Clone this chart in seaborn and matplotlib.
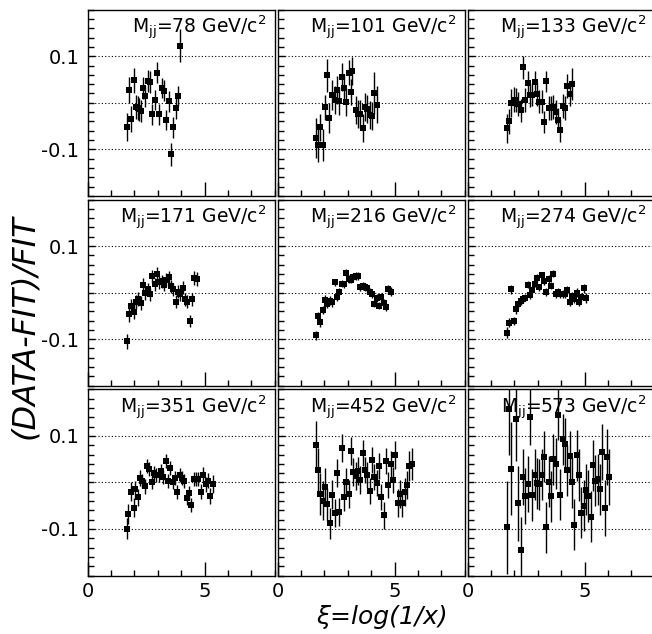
import numpy as np
import pandas as pd
import matplotlib
matplotlib.use("Agg")
import matplotlib.pyplot as plt
import seaborn as sns
from matplotlib.ticker import MultipleLocator, FixedLocator

masses = [78, 101, 133, 171, 216, 274, 351, 452, 573]

x_78 = [1.67, 1.76, 1.87, 1.97, 2.06, 2.14, 2.21, 2.29, 2.37, 2.46, 2.56, 2.66, 2.76, 2.86, 2.96, 3.06, 3.16, 3.26, 3.36, 3.46, 3.56, 3.66, 3.76, 3.86, 3.96]
y_78 = [-0.053, 0.027, -0.035, 0.048, -0.009, -0.011, -0.014, -0.017, 0.032, 0.014, 0.047, 0.045, -0.025, 0.006, 0.065, -0.025, 0.032, 0.026, -0.037, 0.003, -0.111, -0.053, -0.012, 0.015, 0.123]
e_78 = [0.030, 0.028, 0.027, 0.027, 0.025, 0.025, 0.025, 0.024, 0.024, 0.023, 0.023, 0.023, 0.022, 0.022, 0.023, 0.022, 0.022, 0.022, 0.022, 0.022, 0.024, 0.022, 0.022, 0.022, 0.036]

x_101 = [1.64, 1.73, 1.83, 1.94, 2.03, 2.11, 2.21, 2.33, 2.43, 2.53, 2.63, 2.73, 2.83, 2.93, 3.03, 3.13, 3.19, 3.33, 3.43, 3.53, 3.63, 3.73, 3.83, 3.93, 4.03, 4.13, 4.23]
y_101 = [-0.076, -0.091, -0.053, -0.091, -0.010, 0.059, -0.033, 0.017, 0.006, 0.027, 0.003, 0.055, 0.032, 0.001, 0.065, 0.024, 0.068, -0.016, -0.024, -0.024, -0.055, -0.009, -0.014, -0.027, -0.029, 0.021, -0.004]
e_101 = [0.043, 0.036, 0.029, 0.035, 0.027, 0.036, 0.032, 0.032, 0.030, 0.030, 0.030, 0.030, 0.030, 0.030, 0.027, 0.028, 0.030, 0.030, 0.030, 0.030, 0.030, 0.030, 0.030, 0.030, 0.030, 0.045, 0.040]

x_133 = [1.67, 1.76, 1.86, 1.96, 2.06, 2.16, 2.26, 2.36, 2.46, 2.56, 2.66, 2.76, 2.86, 2.96, 3.06, 3.16, 3.26, 3.36, 3.46, 3.56, 3.66, 3.76, 3.86, 3.96, 4.06, 4.16, 4.26, 4.36, 4.46]
y_133 = [-0.055, -0.040, 0.000, 0.007, 0.006, -0.003, -0.016, 0.076, 0.006, 0.043, 0.016, 0.017, 0.044, 0.019, 0.002, 0.002, -0.042, 0.046, -0.011, -0.011, -0.009, -0.020, -0.036, -0.059, -0.007, -0.011, 0.036, 0.018, 0.041]
e_133 = [0.031, 0.027, 0.030, 0.026, 0.026, 0.026, 0.025, 0.025, 0.025, 0.025, 0.025, 0.025, 0.025, 0.025, 0.025, 0.025, 0.024, 0.022, 0.025, 0.025, 0.025, 0.025, 0.025, 0.025, 0.025, 0.025, 0.025, 0.025, 0.034]

x_171 = [1.67, 1.76, 1.87, 1.97, 2.06, 2.16, 2.26, 2.36, 2.46, 2.56, 2.66, 2.76, 2.86, 2.96, 3.06, 3.16, 3.26, 3.36, 3.46, 3.56, 3.66, 3.76, 3.86, 3.96, 4.06, 4.16, 4.26, 4.36, 4.46, 4.56, 4.66]
y_171 = [-0.105, -0.047, -0.029, -0.041, -0.020, -0.014, -0.022, 0.017, -0.001, 0.007, -0.004, 0.035, 0.018, 0.040, 0.022, 0.024, 0.017, 0.028, 0.033, 0.014, 0.007, -0.020, 0.002, -0.004, 0.010, -0.014, -0.020, -0.061, -0.014, 0.031, 0.029]
e_171 = [0.017, 0.016, 0.016, 0.016, 0.015, 0.015, 0.015, 0.015, 0.015, 0.014, 0.014, 0.014, 0.014, 0.014, 0.014, 0.014, 0.014, 0.014, 0.014, 0.014, 0.014, 0.014, 0.014, 0.014, 0.014, 0.014, 0.014, 0.013, 0.014, 0.015, 0.015]

x_216 = [1.64, 1.73, 1.83, 1.94, 2.03, 2.13, 2.23, 2.33, 2.43, 2.53, 2.63, 2.73, 2.83, 2.93, 3.03, 3.13, 3.23, 3.33, 3.43, 3.53, 3.63, 3.73, 3.83, 3.93, 4.03, 4.13, 4.23, 4.33, 4.43, 4.53, 4.63, 4.73, 4.83]
y_216 = [-0.092, -0.050, -0.064, -0.038, -0.015, -0.025, -0.017, -0.021, 0.022, -0.009, 0.002, 0.019, 0.018, 0.043, 0.029, 0.028, 0.034, 0.036, 0.036, 0.012, 0.014, 0.012, 0.009, 0.002, -0.004, -0.024, -0.012, -0.028, -0.009, -0.023, -0.031, 0.007, 0.002]
e_216 = [0.010, 0.009, 0.009, 0.009, 0.009, 0.009, 0.009, 0.009, 0.008, 0.008, 0.008, 0.008, 0.008, 0.008, 0.008, 0.008, 0.008, 0.008, 0.008, 0.008, 0.008, 0.008, 0.008, 0.008, 0.008, 0.008, 0.008, 0.008, 0.009, 0.009, 0.009, 0.010, 0.010]

x_274 = [1.67, 1.76, 1.86, 1.96, 2.06, 2.16, 2.26, 2.36, 2.46, 2.56, 2.66, 2.76, 2.86, 2.96, 3.06, 3.16, 3.26, 3.36, 3.46, 3.56, 3.66, 3.76, 3.86, 3.96, 4.06, 4.16, 4.26, 4.36, 4.46, 4.56, 4.66, 4.76, 4.86, 4.96, 5.06]
y_274 = [-0.086, -0.065, 0.007, -0.061, -0.036, -0.025, -0.018, -0.014, -0.011, 0.017, -0.005, 0.006, 0.019, 0.031, 0.011, 0.037, 0.024, 0.001, 0.029, 0.015, 0.041, -0.003, 0.002, -0.004, -0.003, -0.004, 0.006, -0.020, -0.007, -0.014, 0.000, -0.020, -0.009, 0.009, -0.012]
e_274 = [0.011, 0.010, 0.010, 0.009, 0.009, 0.009, 0.009, 0.008, 0.008, 0.008, 0.008, 0.008, 0.008, 0.008, 0.008, 0.008, 0.008, 0.008, 0.008, 0.008, 0.008, 0.008, 0.008, 0.008, 0.008, 0.008, 0.008, 0.008, 0.008, 0.008, 0.009, 0.009, 0.009, 0.010, 0.011]

x_351 = [1.66, 1.74, 1.86, 1.96, 2.04, 2.14, 2.24, 2.34, 2.44, 2.54, 2.64, 2.74, 2.84, 2.94, 3.04, 3.14, 3.24, 3.34, 3.44, 3.54, 3.64, 3.74, 3.84, 3.94, 4.04, 4.14, 4.24, 4.34, 4.44, 4.54, 4.64, 4.74, 4.84, 4.94, 5.04, 5.14, 5.24, 5.34]
y_351 = [-0.099, -0.068, -0.020, -0.054, -0.015, -0.032, 0.010, 0.003, -0.008, 0.036, 0.029, 0.000, 0.020, 0.016, 0.016, 0.024, 0.011, 0.047, 0.004, 0.032, 0.000, 0.010, -0.020, 0.017, 0.010, 0.004, -0.033, -0.022, -0.049, 0.007, 0.007, 0.007, -0.020, 0.017, -0.004, 0.004, -0.029, -0.004]
e_351 = [0.022, 0.021, 0.020, 0.020, 0.018, 0.018, 0.017, 0.016, 0.016, 0.015, 0.015, 0.015, 0.015, 0.015, 0.015, 0.015, 0.015, 0.015, 0.015, 0.015, 0.015, 0.015, 0.015, 0.015, 0.015, 0.015, 0.015, 0.015, 0.015, 0.015, 0.015, 0.015, 0.016, 0.016, 0.016, 0.017, 0.018, 0.019]

x_452 = [1.64, 1.73, 1.83, 1.94, 2.03, 2.13, 2.23, 2.33, 2.43, 2.53, 2.63, 2.73, 2.83, 2.93, 3.03, 3.13, 3.23, 3.33, 3.43, 3.53, 3.63, 3.73, 3.83, 3.93, 4.03, 4.13, 4.23, 4.33, 4.43, 4.53, 4.63, 4.73, 4.83, 4.93, 5.03, 5.13, 5.23, 5.33, 5.43, 5.53, 5.63, 5.73]
y_452 = [0.081, 0.026, -0.024, -0.039, -0.009, -0.047, -0.088, -0.026, -0.065, 0.021, -0.064, 0.075, -0.032, 0.000, -0.025, 0.067, 0.022, 0.014, 0.024, 0.006, 0.063, 0.026, 0.016, -0.019, 0.049, 0.012, -0.001, 0.035, -0.031, -0.071, 0.047, -0.006, 0.040, 0.005, 0.058, -0.045, -0.024, -0.045, -0.020, -0.005, 0.036, 0.040]
e_452 = [0.052, 0.048, 0.045, 0.042, 0.040, 0.036, 0.033, 0.032, 0.030, 0.030, 0.030, 0.030, 0.030, 0.030, 0.030, 0.030, 0.030, 0.030, 0.030, 0.030, 0.028, 0.028, 0.028, 0.028, 0.028, 0.028, 0.028, 0.028, 0.028, 0.028, 0.028, 0.028, 0.028, 0.028, 0.030, 0.030, 0.030, 0.030, 0.030, 0.030, 0.032, 0.034]

x_573 = [1.67, 1.77, 1.86, 2.06, 2.16, 2.26, 2.36, 2.46, 2.56, 2.66, 2.76, 2.86, 2.96, 3.06, 3.16, 3.26, 3.36, 3.46, 3.56, 3.66, 3.76, 3.86, 3.96, 4.06, 4.16, 4.26, 4.36, 4.46, 4.56, 4.66, 4.76, 4.86, 4.96, 5.06, 5.16, 5.26, 5.36, 5.46, 5.56, 5.66, 5.76, 5.86, 5.96, 6.06]
y_573 = [-0.096, 0.158, 0.029, 0.137, -0.045, -0.145, 0.012, -0.029, -0.004, 0.140, -0.027, 0.017, -0.002, -0.004, 0.017, 0.055, -0.096, 0.002, -0.030, 0.050, 0.040, 0.146, -0.026, 0.093, 0.083, 0.026, 0.056, 0.000, -0.091, 0.058, 0.016, -0.065, -0.050, -0.016, -0.029, -0.074, 0.037, 0.004, 0.007, -0.015, 0.066, -0.055, 0.055, 0.012]
e_573 = [0.100, 0.100, 0.100, 0.090, 0.080, 0.070, 0.060, 0.060, 0.060, 0.060, 0.055, 0.055, 0.055, 0.055, 0.055, 0.055, 0.055, 0.055, 0.055, 0.055, 0.055, 0.055, 0.055, 0.055, 0.055, 0.055, 0.055, 0.055, 0.055, 0.055, 0.055, 0.055, 0.055, 0.055, 0.055, 0.055, 0.055, 0.055, 0.055, 0.055, 0.060, 0.060, 0.060, 0.060]

panels = [
    (x_78, y_78, e_78), (x_101, y_101, e_101), (x_133, y_133, e_133),
    (x_171, y_171, e_171), (x_216, y_216, e_216), (x_274, y_274, e_274),
    (x_351, y_351, e_351), (x_452, y_452, e_452), (x_573, y_573, e_573),
]

sns.set_style("white")
plt.rcParams['font.family'] = ['DejaVu Sans']
plt.rcParams['mathtext.fontset'] = 'dejavusans'
plt.rcParams['text.color'] = 'black'

fig, axes = plt.subplots(3, 3, figsize=(6.52, 6.34), dpi=100, sharex=True, sharey=True)
fig.subplots_adjust(left=87.7/652, right=654.7/652, top=1 - 9.7/634, bottom=1 - 575.5/634,
                    wspace=3/187, hspace=0.02)

for i, ax in enumerate(axes.flat):
    xs, ys, es = panels[i]
    df = pd.DataFrame({"xi": xs, "r": ys, "e": es})
    for yl in (0.1, 0.0, -0.1):
        ax.axhline(yl, color="black", ls=(0, (1, 2)), lw=0.8, zorder=1)
    ax.errorbar(df["xi"], df["r"], yerr=df["e"], fmt="none", ecolor="black",
                elinewidth=1.0, capsize=0, zorder=2)
    sns.scatterplot(data=df, x="xi", y="r", ax=ax, marker="s", s=14,
                    color="black", edgecolor="black", linewidth=0, zorder=3, legend=False)
    ax.set_xlim(0, 8.0)
    ax.set_ylim(-0.2, 0.2)
    ax.set_xlabel("")
    ax.set_ylabel("")
    ax.xaxis.set_major_locator(FixedLocator([0, 5]))
    ax.xaxis.set_minor_locator(MultipleLocator(1))
    ax.yaxis.set_major_locator(FixedLocator([-0.1, 0.1]))
    ax.yaxis.set_minor_locator(MultipleLocator(0.02))
    ax.set_yticklabels(["-0.1", "0.1"])
    ax.tick_params(axis="both", which="both", direction="in", colors="black",
                   labelsize=14, top=False, right=False, bottom=True, left=True)
    ax.tick_params(axis="x", which="major", length=10, width=1, pad=5)
    ax.tick_params(axis="x", which="minor", length=4, width=1)
    ax.tick_params(axis="y", which="major", length=5, width=1, pad=6)
    ax.tick_params(axis="y", which="minor", length=4, width=1)
    for sp in ax.spines.values():
        sp.set_color("black")
        sp.set_linewidth(1.0)
    ax.text(0.955, 0.975, r"M$_{\mathrm{jj}}$=%d GeV/c$^{\mathrm{2}}$" % masses[i],
            transform=ax.transAxes, ha="right", va="top", fontsize=13.5, color="black")
    if i % 3 != 0:
        ax.tick_params(axis="y", labelleft=False)
    if i < 6:
        ax.tick_params(axis="x", labelbottom=False)

fig.text(25/652, 1 - 327/634, "(DATA-FIT)/FIT", rotation=90, ha="center", va="center",
         fontsize=23, style="italic", color="black")
fig.text(382/652, 1 - 617/634, "ξ=log(1/x)", ha="center", va="center",
         fontsize=18, style="italic", color="black")

fig.savefig("out.png", dpi=100)
